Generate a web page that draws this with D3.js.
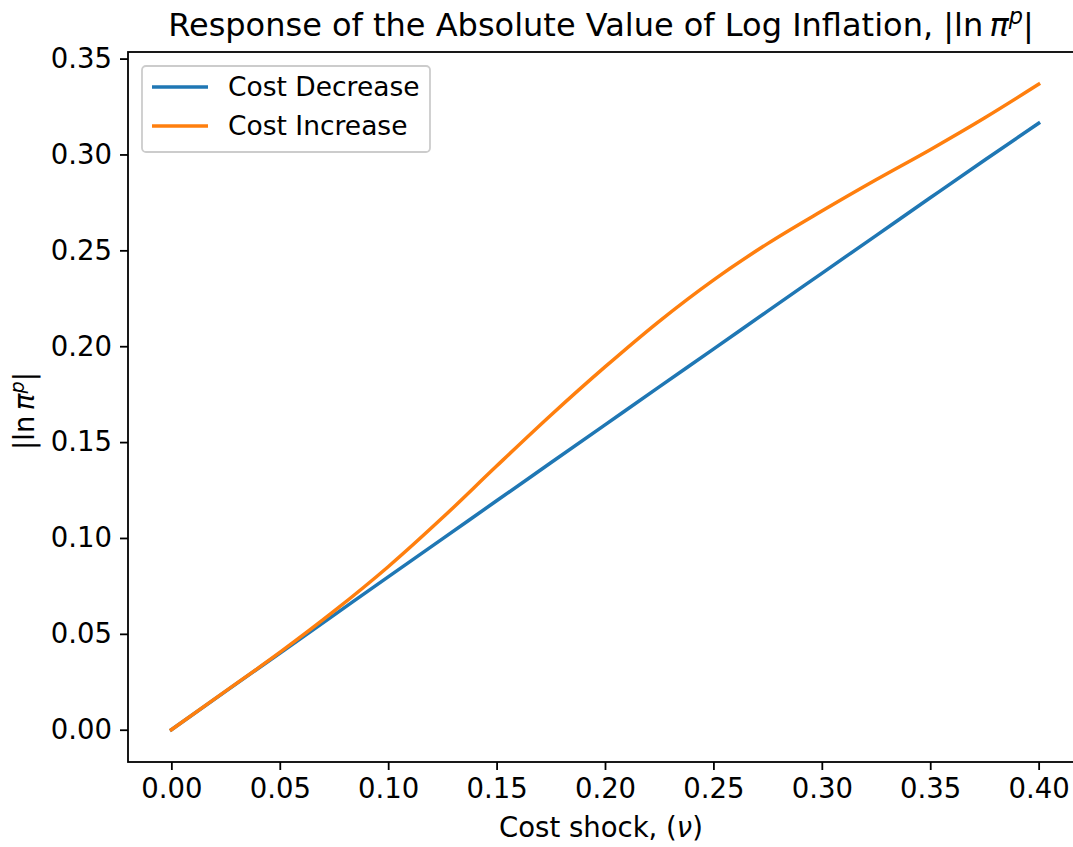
<!DOCTYPE html>
<html>
<head>
<meta charset="utf-8">
<script src="https://cdn.jsdelivr.net/npm/d3@7"></script>
<style>
  html, body { margin: 0; padding: 0; background: #fff; }
  svg { display: block; font-family: "DejaVu Sans", sans-serif; }
</style>
</head>
<body>
<svg id="chart" width="1073" height="847"></svg>
<script>
// ---- data ----
const shock = [0, 0.025, 0.05, 0.075, 0.1, 0.125, 0.15, 0.175, 0.2, 0.225, 0.25, 0.275, 0.3, 0.325, 0.35, 0.375, 0.4];
const costDecrease = [0, 0.0200, 0.0399, 0.0598, 0.0797, 0.0995, 0.1194, 0.1392, 0.1590, 0.1788, 0.1985, 0.2183, 0.2380, 0.2577, 0.2774, 0.2970, 0.3163];
const costIncrease = [0, 0.0201, 0.0403, 0.0618, 0.0850, 0.1105, 0.1375, 0.1640, 0.1892, 0.2130, 0.2345, 0.2535, 0.2705, 0.2868, 0.3025, 0.3190, 0.3366];
const xTicks = [0, 0.05, 0.10, 0.15, 0.20, 0.25, 0.30, 0.35, 0.40];
const yTicks = [0, 0.05, 0.10, 0.15, 0.20, 0.25, 0.30, 0.35];
const seriesNames = ["Cost Decrease", "Cost Increase"];
const seriesColors = ["#1f77b4", "#ff7f0e"];

(function () {
// ---- layout ----
const svg = d3.select("#chart");
const pL = 128, pR = 1082, pT = 52, pB = 762;
const tickFont = 27.5, legendFont = 26.5, titleFont = 32;

const allY = costDecrease.concat(costIncrease);
const xMin = d3.min(shock), xMax = d3.max(shock);
const yMin = d3.min(allY), yMax = d3.max(allY);
const xPad = (xMax - xMin) * 0.05, yPad = (yMax - yMin) * 0.05;

const x = d3.scaleLinear().domain([xMin - xPad, xMax + xPad]).range([pL, pR]);
const y = d3.scaleLinear().domain([yMin - yPad, yMax + yPad]).range([pB, pT]);

// lines
const series = [costDecrease, costIncrease];
const line = d3.line().x(d => x(d[0])).y(d => y(d[1])).curve(d3.curveMonotoneX);
series.forEach((vals, i) => {
  svg.append("path")
    .datum(shock.map((s, j) => [s, vals[j]]))
    .attr("fill", "none")
    .attr("stroke", seriesColors[i])
    .attr("stroke-width", 3.5)
    .attr("stroke-linecap", "square")
    .attr("d", line);
});

// axes
const xAxis = d3.axisBottom(x).tickValues(xTicks).tickFormat(d3.format(".2f")).tickSizeInner(8).tickSizeOuter(0).tickPadding(8);
const yAxis = d3.axisLeft(y).tickValues(yTicks).tickFormat(d3.format(".2f")).tickSizeInner(8).tickSizeOuter(0).tickPadding(8);

const gx = svg.append("g").attr("transform", `translate(0,${pB})`).call(xAxis);
const gy = svg.append("g").attr("transform", `translate(${pL},0)`).call(yAxis);
[gx, gy].forEach(g => {
  g.selectAll("path.domain").remove();
  g.selectAll(".tick line").attr("stroke", "#000").attr("stroke-width", 1.8);
  g.selectAll(".tick text").attr("fill", "#000").style("font-size", tickFont + "px").style("font-family", "DejaVu Sans");
});
gx.selectAll(".tick text").attr("dy", "0.72em");

// spines
svg.append("rect")
  .attr("x", pL).attr("y", pT)
  .attr("width", pR - pL).attr("height", pB - pT)
  .attr("fill", "none").attr("stroke", "#000").attr("stroke-width", 1.8);

// title
const title = svg.append("text")
  .attr("x", (pL + pR) / 2 - 4).attr("y", 36)
  .attr("text-anchor", "middle")
  .style("font-size", titleFont + "px");
title.append("tspan").text("Response of the Absolute Value of Log Inflation, |ln\u2009");
title.append("tspan").style("font-style", "italic").text("π");
title.append("tspan").style("font-style", "italic").style("font-size", (titleFont * 0.7) + "px").attr("dy", -12).text("p");
title.append("tspan").attr("dy", 12).text("|");

// axis labels
const xl = svg.append("text")
  .attr("x", (pL + pR) / 2 - 4).attr("y", 837)
  .attr("text-anchor", "middle")
  .style("font-size", tickFont + "px");
xl.append("tspan").text("Cost shock, (");
xl.append("tspan").style("font-style", "italic").text("ν");
xl.append("tspan").text(")");

const yl = svg.append("text")
  .attr("transform", `translate(34,${(pT + pB) / 2 + 4}) rotate(-90)`)
  .attr("text-anchor", "middle")
  .style("font-size", tickFont + "px");
yl.append("tspan").text("|ln\u2009");
yl.append("tspan").style("font-style", "italic").text("π");
yl.append("tspan").style("font-style", "italic").style("font-size", (tickFont * 0.7) + "px").attr("dy", -10).text("p");
yl.append("tspan").attr("dy", 10).text("|");

// legend
const lg = svg.append("g").attr("transform", `translate(${pL + 14},${pT + 14})`);
lg.append("rect")
  .attr("x", 0).attr("y", 0).attr("width", 288).attr("height", 86)
  .attr("rx", 4).attr("ry", 4)
  .attr("fill", "#fff").attr("fill-opacity", 0.8)
  .attr("stroke", "#cccccc").attr("stroke-width", 1.8);
seriesNames.forEach((name, i) => {
  const cy = 21 + i * 39;
  lg.append("line")
    .attr("x1", 10).attr("x2", 66).attr("y1", cy).attr("y2", cy)
    .attr("stroke", seriesColors[i]).attr("stroke-width", 3.5);
  lg.append("text")
    .attr("x", 86).attr("y", cy).attr("dy", "0.35em")
    .style("font-size", legendFont + "px")
    .text(name);
});
})();
</script>
</body>
</html>
